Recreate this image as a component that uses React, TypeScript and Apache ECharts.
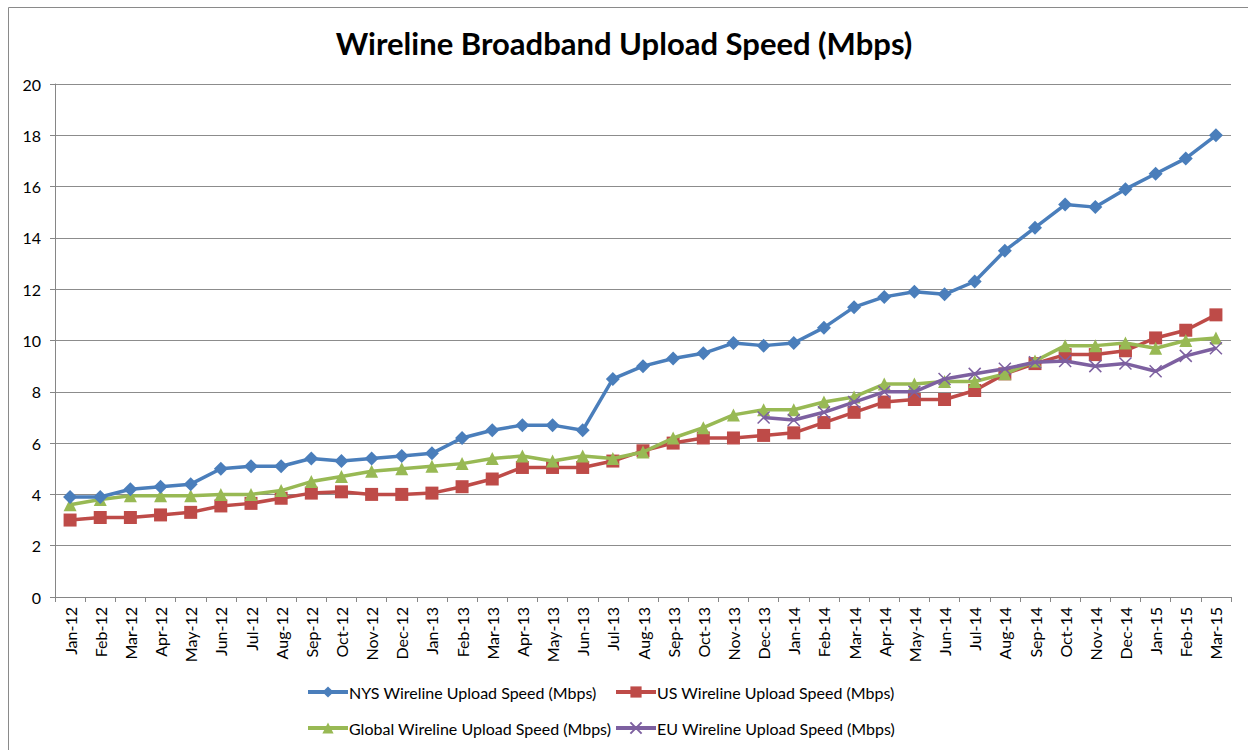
import React, { useEffect, useRef } from "react";
import * as echarts from "echarts";

const categories = [
  "Jan-12","Feb-12","Mar-12","Apr-12","May-12","Jun-12","Jul-12","Aug-12","Sep-12","Oct-12","Nov-12","Dec-12",
  "Jan-13","Feb-13","Mar-13","Apr-13","May-13","Jun-13","Jul-13","Aug-13","Sep-13","Oct-13","Nov-13","Dec-13",
  "Jan-14","Feb-14","Mar-14","Apr-14","May-14","Jun-14","Jul-14","Aug-14","Sep-14","Oct-14","Nov-14","Dec-14",
  "Jan-15","Feb-15","Mar-15",
];

const nysValues = [
  3.9, 3.9, 4.2, 4.3, 4.4, 5.0, 5.1, 5.1, 5.4, 5.3, 5.4, 5.5,
  5.6, 6.2, 6.5, 6.7, 6.7, 6.5, 8.5, 9.0, 9.3, 9.5, 9.9, 9.8,
  9.9, 10.5, 11.3, 11.7, 11.9, 11.8, 12.3, 13.5, 14.4, 15.3, 15.2, 15.9,
  16.5, 17.1, 18.0,
];

const usValues = [
  3.0, 3.1, 3.1, 3.2, 3.3, 3.55, 3.65, 3.85, 4.05, 4.1, 4.0, 4.0,
  4.05, 4.3, 4.6, 5.05, 5.05, 5.05, 5.3, 5.7, 6.0, 6.2, 6.2, 6.3,
  6.4, 6.8, 7.2, 7.6, 7.7, 7.7, 8.05, 8.7, 9.1, 9.45, 9.45, 9.6,
  10.1, 10.4, 11.0,
];

const globalValues = [
  3.6, 3.8, 3.95, 3.95, 3.95, 4.0, 4.0, 4.15, 4.5, 4.7, 4.9, 5.0,
  5.1, 5.2, 5.4, 5.5, 5.3, 5.5, 5.4, 5.65, 6.2, 6.6, 7.1, 7.3,
  7.3, 7.6, 7.8, 8.3, 8.3, 8.4, 8.4, 8.7, 9.2, 9.8, 9.8, 9.9,
  9.7, 10.0, 10.1,
];

const euValues: (number | null)[] = [
  null, null, null, null, null, null, null, null, null, null, null, null,
  null, null, null, null, null, null, null, null, null, null, null, 7.0,
  6.9, 7.2, 7.6, 8.0, 8.0, 8.5, 8.7, 8.9, 9.15, 9.2, 9.0, 9.1,
  8.8, 9.4, 9.7,
];

const yTicks = [0, 2, 4, 6, 8, 10, 12, 14, 16, 18, 20];

const seriesNames = [
  "NYS Wireline Upload Speed (Mbps)",
  "US Wireline Upload Speed (Mbps)",
  "Global Wireline Upload Speed (Mbps)",
  "EU Wireline Upload Speed (Mbps)",
];

const FONT = "Lato, 'Open Sans', sans-serif";

export default function App() {
  const ref = useRef<HTMLDivElement>(null);

  useEffect(() => {
    if (!ref.current) return;
    const chart = echarts.init(ref.current, undefined, { renderer: "svg" });
    const colors = ["#4A7EBB", "#BE4B48", "#98B954", "#7D60A0"];
    const legendCommon = {
      orient: "vertical" as const,
      top: 684,
      itemWidth: 40,
      itemHeight: 14,
      itemGap: 20,
      lineStyle: { width: 4 },
      textStyle: { fontFamily: FONT, fontSize: 16, color: "#000", padding: [0, 0, 0, -4] },
      padding: 0,
    };
    chart.setOption({
      animation: false,
      backgroundColor: "#fff",
      textStyle: { fontFamily: FONT },
      title: {
        text: "Wireline Broadband Upload Speed (Mbps)",
        left: "center",
        top: 22,
        textStyle: { fontFamily: FONT, fontSize: 31, fontWeight: "bold", color: "#000" },
      },
      graphic: [
        {
          type: "rect",
          shape: { x: 8.5, y: 7.5, width: 1260, height: 760 },
          style: { fill: "none", stroke: "#8a8a8a", lineWidth: 1 },
          silent: true,
          z: -1,
        },
      ],
      legend: [
        { ...legendCommon, left: 306, data: [seriesNames[0], seriesNames[2]] },
        { ...legendCommon, left: 614, data: [seriesNames[1], seriesNames[3]] },
      ],
      grid: { left: 55, right: 17, top: 84, bottom: 153, containLabel: false },
      xAxis: {
        type: "category",
        data: categories,
        boundaryGap: true,
        axisLine: { lineStyle: { color: "#868686", width: 1 } },
        axisTick: { show: true, alignWithLabel: false, length: 5, lineStyle: { color: "#868686" } },
        axisLabel: {
          rotate: 90,
          interval: 0,
          margin: 10,
          fontFamily: FONT,
          fontSize: 16,
          color: "#000",
        },
      },
      yAxis: {
        type: "value",
        min: yTicks[0],
        max: yTicks[yTicks.length - 1],
        interval: 2,
        axisLine: { show: true, lineStyle: { color: "#868686", width: 1 } },
        axisTick: { show: true, length: 5, lineStyle: { color: "#868686" } },
        splitLine: { lineStyle: { color: "#8c8c8c", width: 1 } },
        axisLabel: { margin: 14, fontFamily: FONT, fontSize: 16, color: "#000" },
      },
      series: [
        {
          name: seriesNames[0],
          type: "line",
          data: nysValues,
          symbol: "diamond",
          symbolSize: 14,
          lineStyle: { color: colors[0], width: 3.5 },
          itemStyle: { color: colors[0] },
          z: 4,
        },
        {
          name: seriesNames[1],
          type: "line",
          data: usValues,
          symbol: "rect",
          symbolSize: 13,
          lineStyle: { color: colors[1], width: 3.5 },
          itemStyle: { color: colors[1] },
          z: 2,
        },
        {
          name: seriesNames[2],
          type: "line",
          data: globalValues,
          symbol: "triangle",
          symbolSize: 13,
          lineStyle: { color: colors[2], width: 3.5 },
          itemStyle: { color: colors[2] },
          z: 3,
        },
        {
          name: seriesNames[3],
          type: "line",
          data: euValues,
          symbol: "path://M0,0L10,10M10,0L0,10",
          symbolSize: 12,
          showAllSymbol: true,
          lineStyle: { color: colors[3], width: 3.5 },
          itemStyle: { color: colors[3], borderColor: colors[3], borderWidth: 1.5 },
          z: 5,
        },
      ],
    });
    return () => chart.dispose();
  }, []);

  return (
    <div
      ref={ref}
      style={{ position: "absolute", left: 0, top: 0, width: 1248, height: 750 }}
    />
  );
}
